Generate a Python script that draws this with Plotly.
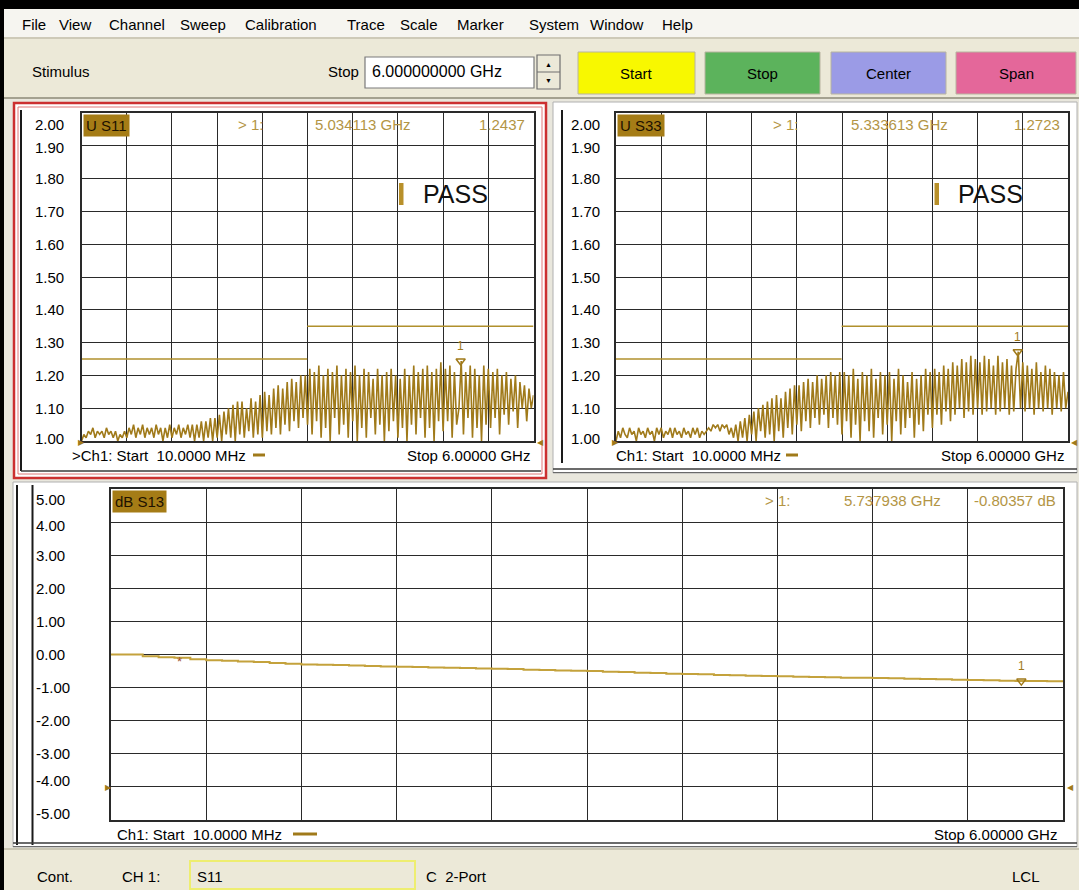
import numpy as np
import plotly.graph_objects as go

W, H = 1079, 890

# ---------------- data ----------------
FREQ_START_GHZ = 0.01
FREQ_STOP_GHZ = 6.0

S11_VSWR = [
    1.00, 1.02, 1.01, 1.03, 1.02, 1.04, 1.01, 1.03, 1.02, 1.03, 1.01, 1.04, 1.02, 1.03, 1.01, 1.03, 1.00, 1.02, 1.01, 1.03,
    1.01, 1.04, 1.02, 1.05, 1.01, 1.04, 1.02, 1.05, 1.01, 1.04, 1.02, 1.04, 1.01, 1.05, 1.02, 1.04, 1.00, 1.04, 1.01, 1.05,
    1.01, 1.04, 1.02, 1.05, 1.01, 1.04, 1.02, 1.05, 1.01, 1.05, 1.00, 1.05, 1.01, 1.06, 1.00, 1.06, 1.01, 1.07, 1.00, 1.07,
    1.01, 1.08, 1.00, 1.09, 1.02, 1.10, 1.01, 1.11, 1.00, 1.12, 1.02, 1.12, 1.01, 1.10, 1.03, 1.13, 1.01, 1.12, 1.02, 1.14,
    1.01, 1.15, 1.03, 1.14, 1.02, 1.16, 1.04, 1.17, 1.02, 1.16, 1.05, 1.18, 1.03, 1.19, 1.06, 1.18, 1.04, 1.20, 1.07, 1.20,
    1.05, 1.22, 1.02, 1.21, 1.06, 1.23, 1.01, 1.20, 1.04, 1.22, 1.00, 1.21, 1.07, 1.23, 1.02, 1.20, 1.05, 1.22, 1.01, 1.21,
    1.06, 1.23, 1.00, 1.20, 1.04, 1.22, 1.01, 1.21, 1.07, 1.19, 1.02, 1.22, 1.05, 1.20, 1.00, 1.21, 1.03, 1.22, 1.06, 1.20,
    1.01, 1.19, 1.04, 1.22, 1.00, 1.20, 1.05, 1.23, 1.02, 1.21, 1.07, 1.22, 1.01, 1.23, 1.04, 1.21, 1.00, 1.22, 1.06, 1.24,
    1.03, 1.22, 1.06, 1.23, 1.01, 1.21, 1.05, 1.10, 1.2437, 1.02, 1.21, 1.07, 1.23, 1.01, 1.22, 1.04, 1.20, 1.00, 1.23, 1.05,
    1.22, 1.04, 1.21, 1.07, 1.22, 1.02, 1.20, 1.08, 1.21, 1.05, 1.19, 1.09, 1.20, 1.04, 1.18, 1.10, 1.17, 1.06, 1.16, 1.10, 1.14,
]

S33_VSWR = [
    1.00, 1.03, 1.01, 1.04, 1.02, 1.01, 1.04, 1.02, 1.03, 1.00, 1.04, 1.02, 1.03, 1.01, 1.04, 1.02, 1.03, 1.00, 1.04, 1.02,
    1.04, 1.01, 1.03, 1.02, 1.04, 1.01, 1.04, 1.02, 1.03, 1.01, 1.04, 1.02, 1.03, 1.01, 1.04, 1.02, 1.04, 1.01, 1.03, 1.02,
    1.03, 1.04, 1.03, 1.05, 1.04, 1.05, 1.03, 1.05, 1.04, 1.05, 1.02, 1.04, 1.01, 1.05, 1.00, 1.06, 1.01, 1.07, 1.00, 1.08,
    1.02, 1.09, 1.00, 1.10, 1.03, 1.11, 1.01, 1.12, 1.02, 1.13, 1.00, 1.14, 1.03, 1.13, 1.01, 1.15, 1.04, 1.16, 1.02, 1.17,
    1.05, 1.17, 1.03, 1.18, 1.06, 1.19, 1.04, 1.18, 1.07, 1.20, 1.05, 1.19, 1.08, 1.20, 1.04, 1.21, 1.07, 1.20, 1.05, 1.21,
    1.02, 1.21, 1.06, 1.20, 1.01, 1.22, 1.05, 1.19, 1.00, 1.21, 1.06, 1.20, 1.03, 1.22, 1.01, 1.19, 1.07, 1.21, 1.02, 1.20,
    1.05, 1.21, 1.00, 1.19, 1.06, 1.22, 1.02, 1.20, 1.04, 1.18, 1.07, 1.21, 1.01, 1.19, 1.05, 1.20, 1.03, 1.22, 1.08, 1.21,
    1.04, 1.22, 1.08, 1.21, 1.05, 1.23, 1.09, 1.22, 1.06, 1.24, 1.08, 1.23, 1.10, 1.25, 1.07, 1.24, 1.09, 1.26, 1.08, 1.25,
    1.10, 1.24, 1.08, 1.26, 1.09, 1.25, 1.10, 1.23, 1.08, 1.26, 1.09, 1.24, 1.10, 1.25, 1.08, 1.23, 1.09, 1.22, 1.2723, 1.10,
    1.24, 1.09, 1.23, 1.10, 1.22, 1.08, 1.24, 1.10, 1.21, 1.09, 1.23, 1.10, 1.22, 1.08, 1.21, 1.10, 1.20, 1.09, 1.21, 1.10, 1.15,
]

S13_DB = [
    0.00, 0.00, -0.05, -0.08, -0.10, -0.14, -0.17,
    -0.19, -0.21, -0.23, -0.26, -0.28, -0.30,
    -0.31, -0.32, -0.33, -0.35, -0.36, -0.37,
    -0.38, -0.39, -0.40, -0.41, -0.42, -0.43,
    -0.44, -0.46, -0.47, -0.48, -0.49, -0.50,
    -0.52, -0.53, -0.55, -0.56, -0.58, -0.59,
    -0.60, -0.62, -0.63, -0.64, -0.65, -0.66,
    -0.67, -0.68, -0.69, -0.70, -0.70, -0.71,
    -0.72, -0.73, -0.74, -0.75, -0.76, -0.77,
    -0.78, -0.79, -0.80, -0.80, -0.81, -0.81,
]

LIMIT_BEGIN_GHZ = [0.01, 3.0]
LIMIT_END_GHZ = [3.0, 6.0]
LIMIT_VSWR = [1.25, 1.35]

VSWR_TICKS = [2.00, 1.90, 1.80, 1.70, 1.60, 1.50, 1.40, 1.30, 1.20, 1.10, 1.00]
DB_TICKS = [5.00, 4.00, 3.00, 2.00, 1.00, 0.00, -1.00, -2.00, -3.00, -4.00, -5.00]

MARKER_S11_GHZ, MARKER_S11_VAL = 5.034113, 1.2437
MARKER_S33_GHZ, MARKER_S33_VAL = 5.333613, 1.2723
MARKER_S13_GHZ, MARKER_S13_VAL = 5.737938, -0.80357
REF_S13_GHZ, REF_S13_VAL = 0.44, -0.20

MENU_ITEMS = ["File", "View", "Channel", "Sweep", "Calibration", "Trace", "Scale",
              "Marker", "System", "Window", "Help"]
BUTTONS = ["Start", "Stop", "Center", "Span"]

# ---------------- styles ----------------
UI_FONT = "Liberation Sans, Arial, sans-serif"
PF = "Liberation Sans, Arial, sans-serif"
GRID = "#2a2a2a"
TRACE = "#a07a1a"
TRACE2 = "#c4a23c"
READ = "#b39545"
HDR_BG = "#a57c16"
BEIGE = "#ece9d8"

def X(px):
    return px / W

def Y(py):
    return 1 - py / H

shapes = []
annotations = []

def rect(x0, y0, x1, y1, fill=None, line=None, lw=1, layer="below"):
    shapes.append(dict(type="rect", xref="paper", yref="paper",
                       x0=X(x0), x1=X(x1), y0=Y(y1), y1=Y(y0),
                       fillcolor=fill if fill else "rgba(0,0,0,0)",
                       line=dict(color=line if line else "rgba(0,0,0,0)", width=lw if line else 0),
                       layer=layer))

def hline(x0, x1, y, color, lw=1, layer="below"):
    shapes.append(dict(type="line", xref="paper", yref="paper", x0=X(x0), x1=X(x1),
                       y0=Y(y), y1=Y(y), line=dict(color=color, width=lw), layer=layer))

def vline(x, y0, y1, color, lw=1, layer="below"):
    shapes.append(dict(type="line", xref="paper", yref="paper", x0=X(x), x1=X(x),
                       y0=Y(y0), y1=Y(y1), line=dict(color=color, width=lw), layer=layer))

def text(x, y, s, size=15, color="#000", anchor="left", family=PF, **kw):
    annotations.append(dict(xref="paper", yref="paper", x=X(x), y=Y(y), text=s,
                            showarrow=False, xanchor=anchor, yanchor="middle",
                            font=dict(size=size, color=color, family=family), **kw))

# ---------------- window chrome ----------------
rect(0, 0, W, 9, fill="#000000")
rect(0, 0, 4, H, fill="#000000")
rect(4, 9, W, 37, fill="#f6f5f0")
rect(4, 37, W, 99, fill=BEIGE)
hline(4, W, 38, "#b0ab98", 1)
hline(4, W, 98, "#8c8878", 1.5)

menu_x = [20, 57, 107, 178, 243, 345, 398, 455, 527, 588, 660]
for name, mx in zip(MENU_ITEMS, menu_x):
    text(mx, 24, name, size=15, family=UI_FONT)

text(30, 72, "Stimulus", size=15, family=UI_FONT)
text(361, 72, "Stop", size=15, family=UI_FONT, anchor="right")
rect(365, 57, 534, 88, fill="#ffffff", line="#7a7a7a", lw=1.2)
text(370, 72, "6.000000000 GHz", size=16, family=UI_FONT)
rect(537, 55, 560, 89, fill=BEIGE, line="#6f6f6f", lw=1.2)
hline(537, 560, 72, "#6f6f6f", 1)
text(548.5, 64, "▲", size=7, anchor="center")
text(548.5, 80, "▼", size=7, anchor="center")

btn_geom = [(578, 695, "#f8f800"), (705, 820, "#5cb35c"), (831, 946, "#9b9be6"), (956, 1076, "#e4679a")]
for label, (bx0, bx1, col) in zip(BUTTONS, btn_geom):
    rect(bx0, 52, bx1, 94, fill=col, line="#b8b4a0", lw=1)
    text((bx0 + bx1) / 2, 73, label, size=15, anchor="center", family=UI_FONT)

# panels
rect(4, 99, W, 848, fill="#e9e7dd")
# top-left panel (active, red frame)
rect(14, 103, 546, 478, fill="#ffffff", line="#cc3030", lw=2.5)
rect(18, 107, 542, 474, line="#e07878", lw=1)
vline(21, 110, 471, "#1a1a1a", 2)
hline(21, 541, 471, "#3a3a3a", 1.5)
# top-right panel
rect(553, 102, 1077, 473, fill="#ffffff", line="#b0b0b0", lw=1)
vline(562, 110, 463, "#1a1a1a", 2)
hline(553, 1077, 469, "#3a3a3a", 1.5)
hline(553, 1077, 472.5, "#6a6a6a", 1)
# bottom panel
rect(13, 482, 1077, 847, fill="#ffffff", line="#b0b0b0", lw=1)
vline(17, 485, 845, "#1a1a1a", 2)
vline(32.5, 485, 845, "#1a1a1a", 2)
hline(13, 1077, 843, "#3a3a3a", 1.5)
hline(13, 1077, 846.5, "#6a6a6a", 1)

# status bar
rect(4, 848, W, H, fill=BEIGE)
hline(4, W, 849, "#a8a490", 1)
text(35, 876, "Cont.", size=15, family=UI_FONT)
text(120, 876, "CH 1:", size=15, family=UI_FONT)
rect(190, 861, 415, 889, line="#eeee70", lw=2)
text(195, 876, "S11", size=15, family=UI_FONT)
text(424, 876, "C  2-Port", size=15, family=UI_FONT)
text(1010, 876, "LCL", size=15, family=UI_FONT)

# ---------------- plot geometry ----------------
TL = (81.6, 533.5, 113, 441)
TR = (616, 1068, 113, 441)
BT = (111, 1063, 489, 820)

def dom(g):
    return [X(g[0]), X(g[1])], [Y(g[3]), Y(g[2])]

def xaxis(g, anchor):
    return dict(domain=dom(g)[0], anchor=anchor, range=[FREQ_START_GHZ, FREQ_STOP_GHZ],
                tick0=FREQ_START_GHZ, dtick=(FREQ_STOP_GHZ - FREQ_START_GHZ) / 10,
                showgrid=True, gridcolor=GRID, gridwidth=1.4, showline=True, linecolor=GRID,
                linewidth=1.6, mirror=True, zeroline=False, showticklabels=False, ticks="",
                fixedrange=True)

def yaxis(g, anchor, lo, hi, step):
    return dict(domain=dom(g)[1], anchor=anchor, range=[lo, hi], tick0=lo, dtick=step,
                showgrid=True, gridcolor=GRID, gridwidth=1.4, showline=True, linecolor=GRID,
                linewidth=1.6, mirror=True, zeroline=False, showticklabels=False, ticks="",
                fixedrange=True)

fig = go.Figure()

def sweep(vals):
    return np.linspace(FREQ_START_GHZ, FREQ_STOP_GHZ, len(vals))

def limit_xy():
    xs, ys = [], []
    for a, b, v in zip(LIMIT_BEGIN_GHZ, LIMIT_END_GHZ, LIMIT_VSWR):
        xs += [a, b, None]
        ys += [v, v, None]
    return xs, ys

lx, ly = limit_xy()
for xr, yr, vals, mf, mv in [("x", "y", S11_VSWR, MARKER_S11_GHZ, MARKER_S11_VAL),
                              ("x2", "y2", S33_VSWR, MARKER_S33_GHZ, MARKER_S33_VAL)]:
    fig.add_trace(go.Scatter(x=lx, y=ly, mode="lines", line=dict(color="#b0902c", width=1.6),
                             xaxis=xr, yaxis=yr, showlegend=False, hoverinfo="skip"))
    fig.add_trace(go.Scatter(x=sweep(vals), y=vals, mode="lines", line=dict(color=TRACE, width=1.6),
                             xaxis=xr, yaxis=yr, showlegend=False))
    fig.add_trace(go.Scatter(x=[mf], y=[mv], mode="markers",
                             marker=dict(symbol="triangle-down-open", size=8, color=TRACE,
                                         line=dict(width=1.5, color=TRACE)),
                             xaxis=xr, yaxis=yr, showlegend=False, cliponaxis=False))
    annotations.append(dict(xref=xr, yref=yr, x=mf, y=mv, text="1", showarrow=False,
                            yshift=15, font=dict(size=12, color=TRACE, family=PF)))

fig.add_trace(go.Scatter(x=sweep(S13_DB), y=S13_DB, mode="lines", line_shape="hv",
                         line=dict(color=TRACE2, width=2), xaxis="x3", yaxis="y3", showlegend=False))
fig.add_trace(go.Scatter(x=[MARKER_S13_GHZ], y=[MARKER_S13_VAL], mode="markers",
                         marker=dict(symbol="triangle-down-open", size=8, color=TRACE,
                                     line=dict(width=1.5, color=TRACE)),
                         xaxis="x3", yaxis="y3", showlegend=False, cliponaxis=False))
annotations.append(dict(xref="x3", yref="y3", x=MARKER_S13_GHZ, y=MARKER_S13_VAL, text="1",
                        showarrow=False, yshift=15, font=dict(size=12, color=TRACE, family=PF)))
annotations.append(dict(xref="x3", yref="y3", x=REF_S13_GHZ, y=REF_S13_VAL, text="*",
                        showarrow=False, font=dict(size=13, color="#a0522d", family=PF)))

# ---------------- per-plot labels ----------------
def tick_labels(ticks, yref, xpx, shifts, fmt="{:.2f}"):
    for t in ticks:
        annotations.append(dict(xref="paper", yref=yref, x=X(xpx), y=t, text=fmt.format(t),
                                showarrow=False, xanchor="left", yanchor="middle",
                                yshift=shifts.get(t, 0),
                                font=dict(size=15, color="#000", family=PF)))

tick_labels(VSWR_TICKS, "y", 33, {2.00: -11, 1.90: -2, 1.00: 3})
tick_labels(VSWR_TICKS, "y2", 569, {2.00: -11, 1.90: -2, 1.00: 3})
tick_labels(DB_TICKS, "y3", 34, {5.00: -11, 4.00: -3, -4.00: 6, -5.00: 7})

def header(g, label, mf, mv, readout_y, mark_x, freq_x, val_right):
    annotations.append(dict(xref="paper", yref="paper", x=X(g[0] + 1), y=Y(g[2] + 1), text=label,
                            showarrow=False, xanchor="left", yanchor="top", bgcolor=HDR_BG,
                            borderpad=2, font=dict(size=15, color="#1e1200", family=PF)))
    text(mark_x, readout_y, "&gt; 1:", size=15, color=READ)
    text(freq_x, readout_y, mf, size=15, color=READ)
    text(val_right, readout_y, mv, size=15, color=READ, anchor="right")

header(TL, "U S11", "5.034113 GHz", "1.2437", 124.5, 236, 313, 527)
header(TR, "U S33", "5.333613 GHz", "1.2723", 124.5, 771, 849, 1062)
header(BT, "dB S13", "5.737938 GHz", "-0.80357 dB", 500.5, 763, 842, 1058)

# PASS indicators
for bx, tx in [(399, 421), (934.5, 956)]:
    rect(bx, 183, bx + 4.5, 205, fill="#b8902a", layer="above")
    text(tx, 194, "PASS", size=25, color="#111")

# start/stop footers
text(70, 455, "&gt;Ch1: Start  10.0000 MHz", size=15)
hline(253, 265, 455, TRACE, 3, layer="above")
text(532, 455, "Stop 6.00000 GHz", size=15, anchor="right")
text(614, 455, "Ch1: Start  10.0000 MHz", size=15)
hline(786, 798, 455, TRACE, 3, layer="above")
text(1066, 455, "Stop 6.00000 GHz", size=15, anchor="right")
text(115, 834, "Ch1: Start  10.0000 MHz", size=15)
hline(293, 317, 834, TRACE, 3, layer="above")
text(1059, 834, "Stop 6.00000 GHz", size=15, anchor="right")

# reference-level arrows
for xr_px_l, xr_px_r, yref, val in [(TL[0] - 6, TL[1] + 1, "y", 1.0), (TR[0] - 6, TR[1] + 1, "y2", 1.0),
                                     (BT[0] - 8, BT[1] + 2, "y3", -4.0)]:
    annotations.append(dict(xref="paper", yref=yref, x=X(xr_px_l), y=val, text="▶", showarrow=False,
                            xanchor="left", font=dict(size=8, color=TRACE)))
    annotations.append(dict(xref="paper", yref=yref, x=X(xr_px_r), y=val, text="◀", showarrow=False,
                            xanchor="left", font=dict(size=8, color=TRACE)))

fig.update_layout(
    width=W, height=H, margin=dict(l=0, r=0, t=0, b=0), autosize=False,
    paper_bgcolor=BEIGE, plot_bgcolor="#ffffff",
    xaxis=xaxis(TL, "y"), yaxis=yaxis(TL, "x", 1.0, 2.0, 0.1),
    xaxis2=xaxis(TR, "y2"), yaxis2=yaxis(TR, "x2", 1.0, 2.0, 0.1),
    xaxis3=xaxis(BT, "y3"), yaxis3=yaxis(BT, "x3", -5.0, 5.0, 1.0),
    shapes=shapes, annotations=annotations, showlegend=False,
)

fig.write_html("out.html", config={"displayModeBar": False},
               post_script="document.body.style.margin='0';document.body.style.overflow='hidden';")
